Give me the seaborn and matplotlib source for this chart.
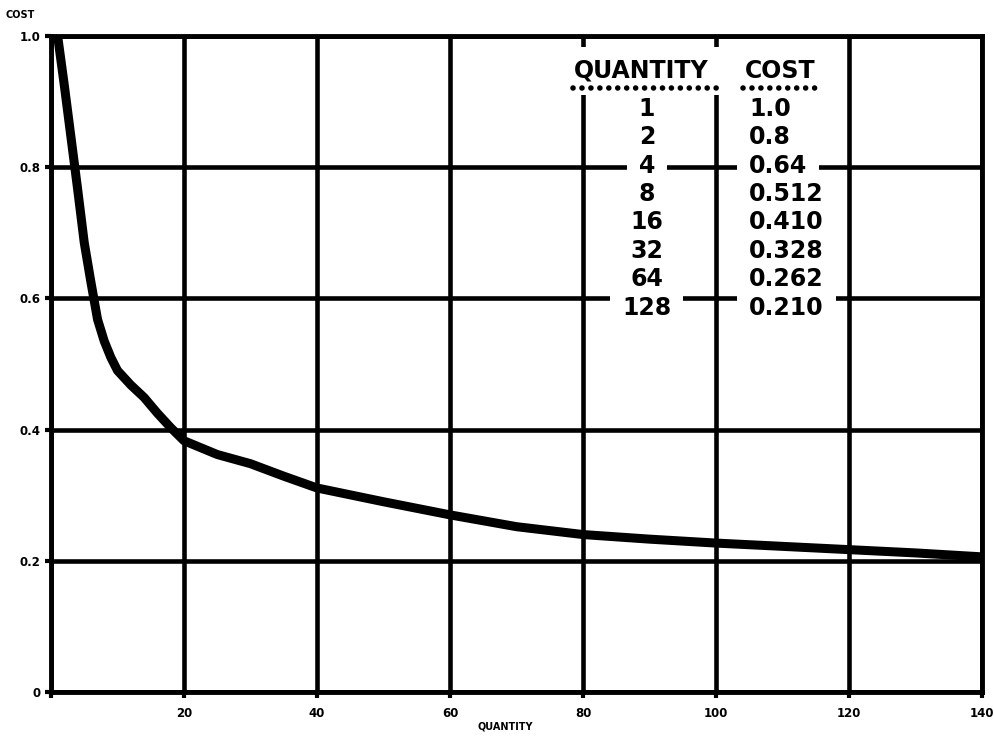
import matplotlib
matplotlib.use("Agg")
import numpy as np
import pandas as pd
import matplotlib.pyplot as plt
import seaborn as sns

# curve
qty = [1, 2, 3, 4, 5, 6, 7, 8, 9, 10, 12, 14, 16, 18, 20, 25, 30, 35, 40,
       50, 60, 70, 80, 90, 100, 110, 120, 130, 140]
cost = [1.0, 0.925, 0.846, 0.767, 0.685, 0.625, 0.568, 0.535, 0.51, 0.49, 0.468,
        0.449, 0.425, 0.403, 0.383, 0.362, 0.348, 0.329, 0.311,
        0.290, 0.270, 0.252, 0.240, 0.233, 0.227, 0.222, 0.217, 0.212, 0.206]

# inset table
table_qty = ['1', '2', '4', '8', '16', '32', '64', '128']
table_cost = ['1.0', '0.8', '0.64', '0.512', '0.410', '0.328', '0.262', '0.210']

x_ticks = [0, 20, 40, 60, 80, 100, 120, 140]
x_ticklabels = ['', '20', '40', '60', '80', '100', '120', '140']
y_ticks = [0, 0.2, 0.4, 0.6, 0.8, 1.0]
y_ticklabels = ['0', '0.2', '0.4', '0.6', '0.8', '1.0']

sns.set_theme(style='white')
plt.rcParams['font.family'] = ['DejaVu Sans']
plt.rcParams['font.weight'] = 'bold'

fig = plt.figure(figsize=(9.94, 7.36), dpi=100)
ax = fig.add_axes([0.0513, 0.0598, 0.9366, 0.8913])

df = pd.DataFrame({'quantity': qty, 'cost': cost})
sns.lineplot(data=df, x='quantity', y='cost', ax=ax, color='black',
             linewidth=6.5, zorder=3, solid_joinstyle='round')

ax.set_xlim(0, 140)
ax.set_ylim(0, 1.0)
ax.set_xticks(x_ticks)
ax.set_xticklabels(x_ticklabels)
ax.set_yticks(y_ticks)
ax.set_yticklabels(y_ticklabels)
ax.grid(True, color='black', linewidth=3.3)
ax.set_axisbelow(True)
for s in ax.spines.values():
    s.set_color('black')
    s.set_linewidth(3.5)
ax.tick_params(bottom=True, left=True, direction='out', length=4.5, width=3,
               color='black', labelsize=8.5, labelcolor='black')
ax.tick_params(axis='x', pad=6)
ax.tick_params(axis='y', pad=3)

ax.set_xlabel('QUANTITY', fontsize=7, fontweight='bold', color='black')
ax.xaxis.set_label_coords(0.488, -0.045)
ax.set_ylabel('COST', fontsize=7, fontweight='bold', color='black', rotation=0)
ax.yaxis.set_label_coords(-0.033, 1.025)

# table: white knock-out boxes first, text on top
box = dict(boxstyle='square,pad=0.5', facecolor='white', edgecolor='none')
fs = 17


def put(x, y, s, ha):
    ax.text(x, y, s, ha=ha, va='center', fontsize=fs, fontweight='bold',
            color='none', bbox=box, zorder=4)
    ax.text(x, y, s, ha=ha, va='center', fontsize=fs, fontweight='bold',
            color='black', zorder=6)


put(88.8, 0.947, 'QUANTITY', 'center')
put(109.6, 0.947, 'COST', 'center')
ax.plot([78.5, 100.2], [0.921, 0.921], color='black', linewidth=4,
        linestyle=(0, (0.01, 1.6)), dash_capstyle='round', zorder=5)
ax.plot([104.1, 114.9], [0.921, 0.921], color='black', linewidth=4,
        linestyle=(0, (0.01, 1.6)), dash_capstyle='round', zorder=5)

row_y = 0.889
for q, c in zip(table_qty, table_cost):
    put(89.6, row_y, q, 'center')
    put(105.0, row_y, c, 'left')
    row_y -= 0.0433

fig.savefig('out.png', dpi=100, facecolor='white')
